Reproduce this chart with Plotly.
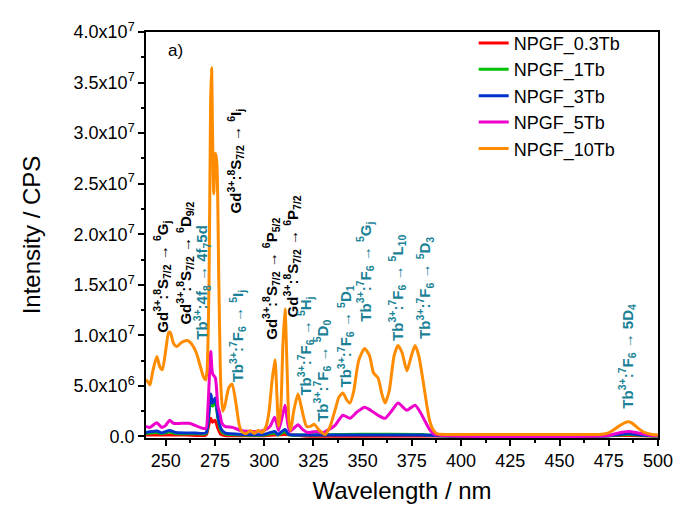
import plotly.graph_objects as go

# ---------------- data ----------------
wl_10 = [240, 241, 242, 243.5, 245.5, 247, 248.3, 250, 251.5, 252.3, 254, 255.7, 258, 261, 263, 265.5,
         267.5, 269, 270.3, 271, 272, 272.8, 273.3, 273.8, 274.4, 275.3, 276.0, 277, 278, 279, 280,
         282, 283.7, 285.5, 287.5, 289, 291, 293, 295, 297, 299, 301, 302.5, 304, 305.5, 306.5,
         307.3, 308.5, 309.5, 310.6, 311.6, 312.6, 313.5, 315, 317.2, 319, 321.5, 323.5, 325.5, 328,
         331, 333.5, 336, 338, 340, 342, 343.6, 345.5, 348, 351, 353.5, 355.5, 357.8, 359.8, 361.4,
         363.5, 366, 368, 370, 372.5, 374.5, 376.6, 378.5, 380.7, 382.5, 384, 386, 388, 395, 420,
         450, 470, 474, 477, 480, 483, 485, 487, 490, 493, 497, 500]
i_10 = [5.6e6, 5.4e6, 5.1e6, 6.5e6, 7.9e6, 6.9e6, 6.6e6, 8.5e6, 10.3e6, 10.3e6, 9.2e6, 8.9e6, 9.3e6,
        9.5e6, 9.2e6, 8.3e6, 7.0e6, 6.0e6, 5.6e6, 6.5e6, 15e6, 33e6, 36.5e6, 30e6, 24e6, 28e6, 27e6,
        15e6, 5e6, 2.5e6, 3.0e6, 4.8e6, 5.2e6, 3.5e6, 1.0e6, 0.4e6, 0.3e6, 0.6e6, 0.3e6, 0.6e6,
        0.4e6, 1.0e6, 2.5e6, 5.5e6, 7.6e6, 4.0e6, 1.0e6, 3.0e6, 9.0e6, 12.6e6, 7.0e6, 1.5e6, 0.6e6,
        2.5e6, 4.2e6, 2.8e6, 1.0e6, 1.0e6, 1.2e6, 0.6e6, 0.2e6, 1.0e6, 2.6e6, 3.9e6, 4.3e6, 3.6e6,
        3.3e6, 4.5e6, 7.5e6, 8.7e6, 8.0e6, 6.3e6, 5.8e6, 4.2e6, 3.3e6, 4.5e6, 8.0e6, 9.0e6, 8.3e6,
        6.5e6, 7.8e6, 9.0e6, 8.0e6, 5.5e6, 3.2e6, 1.6e6, 0.6e6, 0.25e6, 0.2e6, 0.2e6, 0.2e6, 0.2e6,
        0.3e6, 0.6e6, 1.0e6, 1.35e6, 1.45e6, 1.3e6, 0.8e6, 0.4e6, 0.2e6, 0.15e6]

wl_5 = [240, 242, 245.5, 248, 250, 252, 254, 258, 262, 266, 269, 270.5, 271.5, 272.9, 273.8, 275.2,
        276.5, 277.5, 278.5, 280, 284, 288, 295, 300, 303, 305.3, 306.5, 307.3, 309, 310.6, 311.8,
        313, 315, 317.2, 319.5, 322, 326, 330, 333, 336, 340, 343.6, 347, 351, 354, 357.8, 361.4,
        365, 368, 372.5, 376.6, 379, 382, 384, 386, 390, 475, 480, 485, 490, 495, 500]
i_5 = [1.0e6, 0.9e6, 1.35e6, 0.9e6, 1.1e6, 1.6e6, 1.3e6, 1.3e6, 1.3e6, 1.0e6, 0.8e6, 0.8e6, 3.0e6,
       8.4e6, 6.2e6, 5.8e6, 3.0e6, 2.3e6, 1.35e6, 1.0e6, 0.9e6, 0.6e6, 0.5e6, 0.6e6, 1.0e6, 1.9e6,
       1.2e6, 0.6e6, 1.8e6, 3.1e6, 1.5e6, 0.5e6, 0.8e6, 1.15e6, 0.7e6, 0.4e6, 0.5e6, 0.4e6, 0.7e6,
       1.1e6, 2.1e6, 1.8e6, 2.4e6, 2.9e6, 2.6e6, 2.1e6, 1.8e6, 2.6e6, 3.3e6, 2.6e6, 3.1e6, 2.5e6,
       1.4e6, 0.7e6, 0.25e6, 0.1e6, 0.1e6, 0.35e6, 0.5e6, 0.35e6, 0.15e6, 0.1e6]

wl_3 = [240, 245.5, 248, 252, 255, 265, 270.5, 271.5, 272.9, 273.8, 275.2, 276.5, 278, 280, 290, 300,
        305.3, 307, 310.6, 312.5, 320, 340, 360, 380, 390, 475, 480, 485, 490, 495, 500]
i_3 = [0.4e6, 0.55e6, 0.35e6, 0.6e6, 0.4e6, 0.35e6, 0.35e6, 1.5e6, 4.2e6, 3.3e6, 3.8e6, 2.0e6, 0.8e6,
       0.35e6, 0.2e6, 0.2e6, 0.5e6, 0.2e6, 0.7e6, 0.2e6, 0.15e6, 0.15e6, 0.15e6, 0.15e6, 0.08e6,
       0.08e6, 0.18e6, 0.3e6, 0.18e6, 0.1e6, 0.08e6]

wl_1 = [240, 245.5, 248, 252, 255, 265, 270.5, 271.5, 272.9, 273.8, 275.2, 276.5, 278, 280, 290, 300,
        305.3, 307, 310.6, 312.5, 320, 340, 360, 380, 390, 475, 485, 495, 500]
i_1 = [0.3e6, 0.4e6, 0.3e6, 0.45e6, 0.3e6, 0.28e6, 0.28e6, 1.4e6, 3.9e6, 3.0e6, 3.4e6, 1.8e6, 0.6e6,
       0.25e6, 0.15e6, 0.15e6, 0.35e6, 0.15e6, 0.5e6, 0.15e6, 0.15e6, 0.2e6, 0.22e6, 0.2e6, 0.06e6,
       0.06e6, 0.2e6, 0.08e6, 0.06e6]

wl_03 = [240, 260, 270.5, 271.5, 272.9, 273.8, 275.0, 276.5, 278, 280, 300, 310.6, 320, 400, 485, 500]
i_03 = [0.15e6, 0.15e6, 0.15e6, 0.8e6, 1.8e6, 1.4e6, 1.6e6, 0.8e6, 0.2e6, 0.1e6, 0.08e6, 0.2e6,
        0.06e6, 0.05e6, 0.1e6, 0.05e6]

series_names = ["NPGF_0.3Tb", "NPGF_1Tb", "NPGF_3Tb", "NPGF_5Tb", "NPGF_10Tb"]
series_x = [wl_03, wl_1, wl_3, wl_5, wl_10]
series_y = [i_03, i_1, i_3, i_5, i_10]
series_colors = ["#ff0000", "#00c000", "#0033cc", "#ee00cc", "#ff8c00"]

y_tickvals = [0, 5e6, 1e7, 1.5e7, 2e7, 2.5e7, 3e7, 3.5e7, 4e7]
y_ticktext = ["0.0", "5.0x10<sup>6</sup>", "1.0x10<sup>7</sup>", "1.5x10<sup>7</sup>",
              "2.0x10<sup>7</sup>", "2.5x10<sup>7</sup>", "3.0x10<sup>7</sup>",
              "3.5x10<sup>7</sup>", "4.0x10<sup>7</sup>"]

# ---------------- figure ----------------
fig = go.Figure()
for name, xs, ys, col in zip(series_names, series_x, series_y, series_colors):
    fig.add_trace(go.Scatter(x=xs, y=ys, mode="lines", name=name,
                             line=dict(color=col, width=3, shape="spline", smoothing=0.6)))

BLACK = "#000000"
TEAL = "#1a8296"
labels = [
    ("Gd<sup>3+</sup>:<sup>8</sup>S<sub>7/2</sub> → <sup>6</sup>G<sub>j</sub>", 248.1, 15.8e6, BLACK),
    ("Gd<sup>3+</sup>:<sup>8</sup>S<sub>7/2</sub> → <sup>6</sup>D<sub>9/2</sub>", 259.8, 17.2e6, BLACK),
    ("Tb<sup>3+</sup>:4f<sub>8</sub> → 4f<sub>7</sub>5d", 268.4, 15.3e6, TEAL),
    ("Gd<sup>3+</sup>:<sup>8</sup>S<sub>7/2</sub> → <sup>6</sup>I<sub>j</sub>", 285.2, 27.2e6, BLACK),
    ("Tb<sup>3+</sup>:<sup>7</sup>F<sub>6</sub> → <sup>5</sup>I<sub>j</sub>", 286.2, 10.0e6, TEAL),
    ("Gd<sup>3+</sup>:<sup>8</sup>S<sub>7/2</sub> → <sup>6</sup>P<sub>5/2</sub>", 303.5, 15.6e6, BLACK),
    ("Gd<sup>3+</sup>:<sup>8</sup>S<sub>7/2</sub> → <sup>6</sup>P<sub>7/2</sub>", 314.1, 17.8e6, BLACK),
    ("Tb<sup>3+</sup>:<sup>7</sup>F<sub>6</sub> → <sup>5</sup>H<sub>j</sub>", 320.8, 8.9e6, TEAL),
    ("Tb<sup>3+</sup>:<sup>7</sup>F<sub>6</sub> → <sup>5</sup>D<sub>0</sub>", 329.4, 6.5e6, TEAL),
    ("Tb<sup>3+</sup>:<sup>7</sup>F<sub>6</sub> → <sup>5</sup>D<sub>1</sub>", 341.1, 9.9e6, TEAL),
    ("Tb<sup>3+</sup>:<sup>7</sup>F<sub>6</sub> → <sup>5</sup>G<sub>j</sub>", 351.2, 16.3e6, TEAL),
    ("Tb<sup>3+</sup>:<sup>7</sup>F<sub>6</sub> → <sup>5</sup>L<sub>10</sub>", 367.5, 14.7e6, TEAL),
    ("Tb<sup>3+</sup>:<sup>7</sup>F<sub>6</sub> → <sup>5</sup>D<sub>3</sub>", 381.7, 14.7e6, TEAL),
    ("Tb<sup>3+</sup>:<sup>7</sup>F<sub>6</sub> → 5D<sub>4</sub>", 484.3, 7.9e6, TEAL),
]
for txt, xa, ya, col in labels:
    fig.add_annotation(x=xa, y=ya, xref="x", yref="y", text="<b>" + txt + "</b>",
                       textangle=-90, showarrow=False, xanchor="center", yanchor="middle",
                       font=dict(family="Liberation Sans, Arial", size=15, color=col))

fig.add_annotation(x=0.04, y=0.955, xref="paper", yref="paper", text="a)", showarrow=False,
                   xanchor="left", yanchor="middle",
                   font=dict(family="Liberation Sans, Arial", size=17, color="black"))

fig.update_layout(
    width=690, height=506,
    margin=dict(l=138, r=40, t=14, b=76),
    paper_bgcolor="white", plot_bgcolor="white",
    font=dict(family="Liberation Sans, Arial", color="black"),
    legend=dict(x=0.64, y=1.018, xanchor="left", yanchor="top",
                bgcolor="rgba(0,0,0,0)", borderwidth=0,
                font=dict(size=18, family="Liberation Sans, Arial"), tracegroupgap=0),
    showlegend=True,
)
fig.update_xaxes(range=[240, 500], tickmode="linear", tick0=250, dtick=25,
                 ticks="outside", ticklen=6, tickwidth=1.5, tickcolor="black",
                 showline=True, linewidth=1.5, linecolor="black", mirror=True,
                 showgrid=False, zeroline=False,
                 tickfont=dict(size=18),
                 minor=dict(ticks="outside", ticklen=3, dtick=12.5, tick0=237.5, tickcolor="black", showgrid=False),
                 title=dict(text="Wavelength / nm", font=dict(size=24), standoff=12))
fig.update_yaxes(range=[-1.5e5, 4.0e7], tickmode="array", tickvals=y_tickvals, ticktext=y_ticktext,
                 ticks="outside", ticklen=6, tickwidth=1.5, tickcolor="black",
                 showline=True, linewidth=1.5, linecolor="black", mirror=True,
                 showgrid=False, zeroline=False,
                 tickfont=dict(size=18),
                 minor=dict(ticks="outside", ticklen=3, tickmode="linear", dtick=2.5e6, tick0=0,
                            tickcolor="black", showgrid=False),
                 title=dict(text="Intensity / CPS", font=dict(size=24), standoff=26))

fig.write_html("out.html")
